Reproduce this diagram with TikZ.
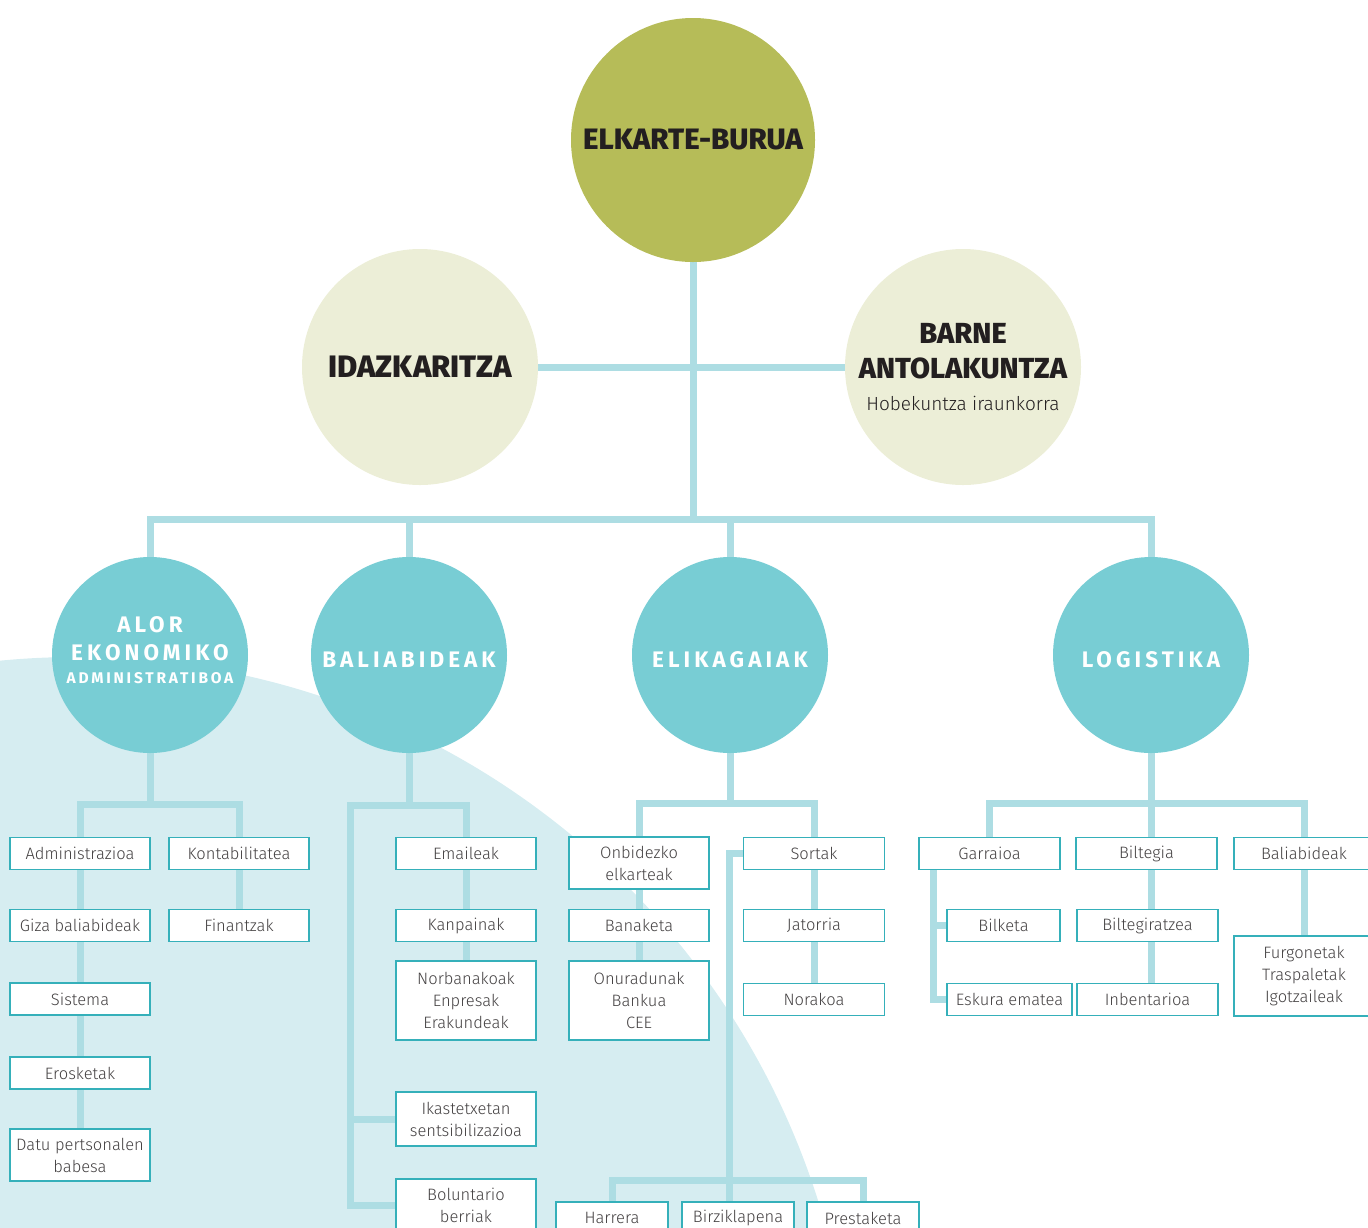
\documentclass[tikz,border=0pt]{standalone}
\usepackage{fontspec}
\setmainfont{Fira Sans}[UprightFont=* Light, BoldFont=* Bold]
\newfontfamily\headfont{Fira Sans}[UprightFont=* ExtraBold]
\newfontfamily\tealfont{Fira Sans}[UprightFont=* Bold, LetterSpace=18]
\usepackage{tikz}
\usetikzlibrary{positioning, backgrounds}
\definecolor{olivefill}{HTML}{B6BC58}
\definecolor{palefill}{HTML}{ECEED7}
\definecolor{tealfill}{HTML}{78CDD4}
\definecolor{linkblue}{HTML}{ADDDE3}
\definecolor{blobblue}{HTML}{D6EDF1}
\definecolor{boxline}{HTML}{35B0BA}
\definecolor{ink}{HTML}{231F20}
\tikzstyle{link} = [line width=7pt, draw=linkblue]
\tikzstyle{box} = [draw=boxline, line width=1.3pt, fill=white, minimum width=140pt, minimum height=32pt, inner sep=0pt, align=center, text=ink!85, font=\fontsize{16.5}{22}\selectfont]
\tikzstyle{head} = [circle, fill=olivefill, minimum size=244pt, inner sep=0pt, align=center, text=ink, font=\headfont\fontsize{29.5}{30}\selectfont]
\tikzstyle{side} = [circle, fill=palefill, minimum size=236pt, inner sep=0pt, align=center, text=ink, font=\headfont\fontsize{29}{35}\selectfont]
\tikzstyle{area} = [circle, fill=tealfill, minimum size=196pt, inner sep=0pt, align=center, text=white, font=\tealfont\fontsize{22.5}{28}\selectfont]

\begin{document}
\begin{tikzpicture}[x=1pt, y=-1pt]
\path[use as bounding box] (0,0) rectangle (1368,1227);
\clip (0,0) rectangle (1368,1227);
\begin{pgfonlayer}{background}
  \begin{scope}
    \clip (0,0) rectangle (1368,1227);
    \fill[blobblue] (76,1435) circle (778pt);
  \end{scope}
\end{pgfonlayer}

\node[head] (burua) at (693,140) {ELKARTE-BURUA};
\node[side, font=\headfont\fontsize{31}{35}\selectfont] (idazk) at (420,367) {IDAZKARITZA};
\node[side] (barne) at (963,367) {BARNE\\ANTOLAKUNTZA\\[-3pt]\normalfont\fontsize{19}{24}\selectfont Hobekuntza iraunkorra};

\node[area, text depth=10pt] (alor) at (150,655) {ALOR\\EKONOMIKO\\[-5pt]\fontsize{15.5}{20}\selectfont ADMINISTRATIBOA};
\node[area, text height=25pt, text depth=0pt] (balia) at (409,655) {BALIABIDEAK};
\node[area, text height=25pt, text depth=0pt] (elika) at (730,655) {ELIKAGAIAK};
\node[area, text height=25pt, text depth=0pt] (logi) at (1151,655) {LOGISTIKA};

\node[box] (admin) at (80,853.5) {Administrazioa};
\node[box] (giza) at (80,925.5) {Giza baliabideak};
\node[box] (sistema) at (80,999) {Sistema};
\node[box] (erosk) at (80,1073) {Erosketak};
\node[box, minimum height=52pt] (datu) at (80,1155) {Datu pertsonalen\\babesa};
\node[box] (kontab) at (239,853.5) {Kontabilitatea};
\node[box] (finan) at (239,925.5) {Finantzak};

\node[box] (emaile) at (466,853.5) {Emaileak};
\node[box] (kanpai) at (466,925.5) {Kanpainak};
\node[box, minimum height=79pt] (norban) at (466,1000.5) {Norbanakoak\\Enpresak\\Erakundeak};
\node[box, minimum height=54pt] (ikast) at (466,1119) {Ikastetxetan\\sentsibilizazioa};
\node[box, minimum height=52pt] (bolunt) at (466,1205) {Boluntario\\berriak};

\node[box, minimum height=52pt] (onbid) at (639,863) {Onbidezko\\elkarteak};
\node[box] (banak) at (639,925.5) {Banaketa};
\node[box, minimum height=79pt] (onura) at (639,1000.5) {Onuradunak\\Bankua\\CEE};
\node[box, minimum width=141pt] (sortak) at (814,853.5) {Sortak};
\node[box, minimum width=141pt] (jator) at (814,925.5) {Jatorria};
\node[box, minimum width=141pt] (norak) at (814,999.5) {Norakoa};
\node[box, minimum width=112pt] (harrera) at (612,1218) {Harrera};
\node[box, minimum width=112pt] (birzi) at (738,1218) {Birziklapena};
\node[box, minimum width=112pt] (presta) at (863,1218) {Prestaketa};

\node[box, minimum width=141pt] (garra) at (989.5,853.5) {Garraioa};
\node[box, minimum width=141pt] (bilteg) at (1146.5,853.5) {Biltegia};
\node[box] (balia2) at (1304,853.5) {Baliabideak};
\node[box, minimum width=113pt] (bilket) at (1003.5,925.5) {Bilketa};
\node[box, minimum width=125pt] (eskura) at (1009.5,999.5) {Eskura ematea};
\node[box, minimum width=141pt] (biltegi) at (1147.5,925.5) {Biltegiratzea};
\node[box, minimum width=141pt] (inben) at (1147.5,999.5) {Inbentarioa};
\node[box, minimum height=80pt] (furgo) at (1304,976) {Furgonetak\\Traspaletak\\Igotzaileak};

\begin{pgfonlayer}{background}
  \coordinate (trunk) at (693,519);
  \coordinate (alorbar) at (150,804);
  \coordinate (baliabar) at (409,805);
  \coordinate (balialeft) at (350,805);
  \coordinate (elikabar) at (730,803);
  \coordinate (elikadown) at (729,1180);
  \coordinate (logibar) at (1151,803);
  \draw[link] (burua.south) -- (trunk);
  \draw[link] (idazk.east) -- (barne.west);
  \draw[link] (alor.north) |- (trunk) -| (logi.north);
  \draw[link] (balia.north) -- (balia.north |- trunk);
  \draw[link] (elika.north) -- (elika.north |- trunk);
  \draw[link] (alor.south) -- (alorbar);
  \draw[link] (admin.north) |- (alorbar) -| (kontab.north);
  \foreach \a/\b in {admin/giza, giza/sistema, sistema/erosk, erosk/datu, kontab/finan, emaile/kanpai, kanpai/norban, onbid/banak, banak/onura, sortak/jator, jator/norak, balia2/furgo}
    \draw[link] (\a.south) -- (\b.north);
  \draw[link] (balia.south) -- (baliabar);
  \draw[link] (bolunt.west) -| (balialeft) -| (emaile.north);
  \draw[link] (ikast.west) -- (ikast.west -| balialeft);
  \draw[link] (elika.south) -- (elikabar);
  \draw[link] (onbid.north) |- (elikabar) -| (sortak.north);
  \draw[link] (sortak.west) -| (elikadown) -- (elikadown |- birzi.north);
  \draw[link] (harrera.north) |- (elikadown) -| (presta.north);
  \draw[link] (logi.south) -- (bilteg.north -| logi.south);
  \draw[link] (bilteg.south -| logi.south) -- (biltegi.north -| logi.south);
  \draw[link] (biltegi.south -| logi.south) -- (inben.north -| logi.south);
  \draw[link] (garra.north) |- (logibar) -| (balia2.north);
  \draw[link] ([xshift=-56.5pt]garra.south) |- (eskura.west);
  \draw[link] (bilket.west) -| ([xshift=-56.5pt]garra.south);
\end{pgfonlayer}
\end{tikzpicture}
\end{document}
